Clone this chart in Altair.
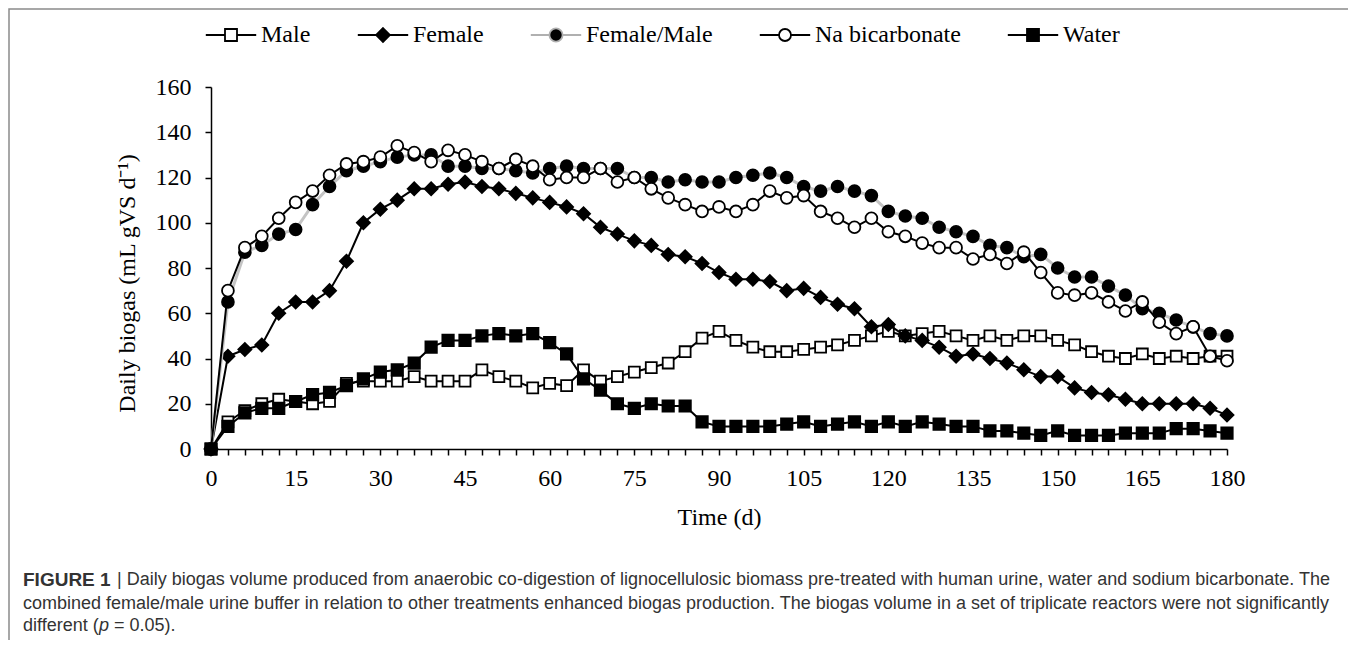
import altair as alt
import pandas as pd

# ---------------- data ----------------
days = list(range(0, 181, 3))
series_names = ["Male", "Female", "Female/Male", "Na bicarbonate", "Water"]

male = [0, 12, 17, 20, 22, 21, 20, 21, 29, 30, 30, 30, 32, 30, 30, 30, 35, 32, 30, 27,
        29, 28, 35, 30, 32, 34, 36, 38, 43, 49, 52, 48, 45, 43, 43, 44, 45, 46, 48, 50,
        52, 50, 51, 52, 50, 48, 50, 48, 50, 50, 48, 46, 43, 41, 40, 42, 40, 41, 40, 41, 41]
female = [0, 41, 44, 46, 60, 65, 65, 70, 83, 100, 106, 110, 115, 115, 117, 118, 116, 115, 113, 111,
          109, 107, 104, 98, 95, 92, 90, 86, 85, 82, 78, 75, 75, 74, 70, 71, 67, 64, 62, 54,
          55, 50, 48, 45, 41, 42, 40, 38, 35, 32, 32, 27, 25, 24, 22, 20, 20, 20, 20, 18, 15]
female_male = [0, 65, 87, 90, 95, 97, 108, 116, 123, 125, 127, 129, 130, 130, 125, 125, 124, 124, 123, 122,
               124, 125, 124, 124, 124, 120, 120, 118, 119, 118, 118, 120, 121, 122, 120, 116, 114, 116, 114, 112,
               105, 103, 102, 98, 96, 94, 90, 89, 85, 86, 80, 76, 76, 72, 68, 62, 60, 57, 54, 51, 50]
na_bicarbonate = [0, 70, 89, 94, 102, 109, 114, 121, 126, 127, 129, 134, 131, 127, 132, 130, 127, 124, 128, 125,
                  119, 120, 120, 124, 118, 120, 115, 111, 108, 105, 107, 105, 108, 114, 111, 112, 105, 102, 98, 102,
                  96, 94, 91, 89, 89, 84, 86, 82, 87, 78, 69, 68, 69, 65, 61, 65, 56, 51, 54, 41, 39]
water = [0, 10, 16, 18, 18, 21, 24, 25, 28, 31, 34, 35, 38, 45, 48, 48, 50, 51, 50, 51,
         47, 42, 31, 26, 20, 18, 20, 19, 19, 12, 10, 10, 10, 10, 11, 12, 10, 11, 12, 10,
         12, 10, 12, 11, 10, 10, 8, 8, 7, 6, 8, 6, 6, 6, 7, 7, 7, 9, 9, 8, 7]

y_ticks = list(range(0, 161, 20))
x_title = "Time (d)"
y_title = "Daily biogas (mL gVS d\u207b\u00b9)"

caption_fig = "FIGURE 1"
caption_line1 = ("| Daily biogas volume produced from anaerobic co-digestion of lignocellulosic biomass "
                 "pre-treated with human urine, water and sodium bicarbonate. The")
caption_line2 = ("combined female/male urine buffer in relation to other treatments enhanced biogas production. "
                 "The biogas volume in a set of triplicate reactors were not significantly")
caption_line3a = "different ("
caption_line3b = "p"
caption_line3c = "= 0.05)."

# ---------------- styling ----------------
line_colors = ["black", "black", "#c4c4c4", "black", "black"]
line_widths = [2, 2, 3, 2, 2]
marker_shapes = ["square", "diamond", "circle", "circle", "square"]
marker_fills = ["white", "black", "black", "white", "black"]
marker_sizes = [120, 170, 140, 140, 130]

legend_paths = [
    "M-4.2,0H-1M1,0H4.2M-1,-1H1V1H-1Z",
    "M-4.2,0H4.2M0,-1.15L1.15,0L0,1.15L-1.15,0Z",
    "M-4.2,0H-1.1M1.1,0H4.2M1.1,0A1.1,1.1,0,1,1,-1.1,0A1.1,1.1,0,1,1,1.1,0Z",
    "M-4.2,0H-1M1,0H4.2M1,0A1,1,0,1,1,-1,0A1,1,0,1,1,1,0Z",
    "M-4.2,0H-1M1,0H4.2M-1,-1H1V1H-1Z",
]
legend_strokes = ["black", "black", "#b0b0b0", "black", "black"]

rows = []
for name, vals in zip(series_names, [male, female, female_male, na_bicarbonate, water]):
    for d, v in zip(days, vals):
        rows.append({"Day": d, "Value": v, "Series": name})
df = pd.DataFrame(rows)

x_enc = alt.X("Day:Q",
              scale=alt.Scale(domain=[0, 180], nice=False, zero=True),
              axis=alt.Axis(values=days, title=x_title,
                            labelExpr="datum.value % 15 === 0 ? datum.label : ''",
                            labelOverlap=False, labelFlush=False, labelPadding=11,
                            titleY=68, titleBaseline="middle"))
y_enc = alt.Y("Value:Q",
              scale=alt.Scale(domain=[0, 160], nice=False),
              axis=alt.Axis(values=y_ticks, title=y_title, labelPadding=14,
                            titleX=-84, titleY=196, titleBaseline="middle", titleAngle=270))

base = alt.Chart(df)

series_layers = []
for name, lc, lw, shp, fil, sz in zip(series_names, line_colors, line_widths,
                                      marker_shapes, marker_fills, marker_sizes):
    sub = base.transform_filter(alt.datum.Series == name)
    series_layers.append(
        sub.mark_line(color=lc, strokeWidth=lw).encode(x=x_enc, y=y_enc)
    )
    series_layers.append(
        sub.mark_point(shape=shp, filled=True, fill=fil, stroke="black", strokeWidth=1.8,
                       size=sz, opacity=1).encode(x=x_enc, y=y_enc)
    )

legend_layer = base.mark_point(opacity=0, strokeWidth=1.8).encode(
    x=x_enc, y=y_enc,
    shape=alt.Shape("Series:N", scale=alt.Scale(domain=series_names, range=legend_paths), title=None),
    fill=alt.Fill("Series:N", scale=alt.Scale(domain=series_names, range=marker_fills), title=None),
    stroke=alt.Stroke("Series:N", scale=alt.Scale(domain=series_names, range=legend_strokes), title=None),
)

one = pd.DataFrame({"k": [0]})
border = alt.Chart(one).mark_rect(fillOpacity=0, stroke="#8a8a8a", strokeWidth=1.5).encode(
    x=alt.value(-202), x2=alt.value(1144), y=alt.value(-78), y2=alt.value(600))


def caption(txt, xpos, ypos, size=18, **kw):
    return alt.Chart(pd.DataFrame({"t": [txt]})).mark_text(
        align="left", baseline="middle", font="Liberation Sans", fontSize=size, color="#333333", **kw
    ).encode(text="t:N", x=alt.value(xpos), y=alt.value(ypos))


cap_layers = [
    caption(caption_fig, -188, 493, size=19, fontWeight="bold"),
    caption(caption_line1, -94, 493),
    caption(caption_line2, -188, 517),
    caption(caption_line3a, -188, 539),
    caption(caption_line3b, -112, 539, fontStyle="italic"),
    caption(caption_line3c, -97, 539),
]

chart = alt.layer(border, legend_layer, *series_layers, *cap_layers).properties(
    width=1016, height=362,
    autosize=alt.AutoSizeParams(type="none"),
    padding={"left": 203, "top": 79, "right": 121, "bottom": 191},
).configure_axis(
    domainColor="black", domainWidth=1.5, tickColor="black", tickWidth=1.5, tickSize=6,
    labelFont="Liberation Serif", labelFontSize=24, labelColor="black",
    titleFont="Liberation Serif", titleFontSize=24, titleFontWeight="normal", titleColor="black",
    grid=False,
).configure_legend(
    orient="none", legendX=8, legendY=-64, direction="horizontal",
    symbolSize=144, symbolStrokeWidth=1.8, symbolOpacity=1,
    labelFont="Liberation Serif", labelFontSize=24, labelColor="black",
    labelOffset=18, columnPadding=43, padding=0,
).configure_view(strokeWidth=0)

chart.save("out.html", embed_options={"renderer": "svg", "actions": False})
